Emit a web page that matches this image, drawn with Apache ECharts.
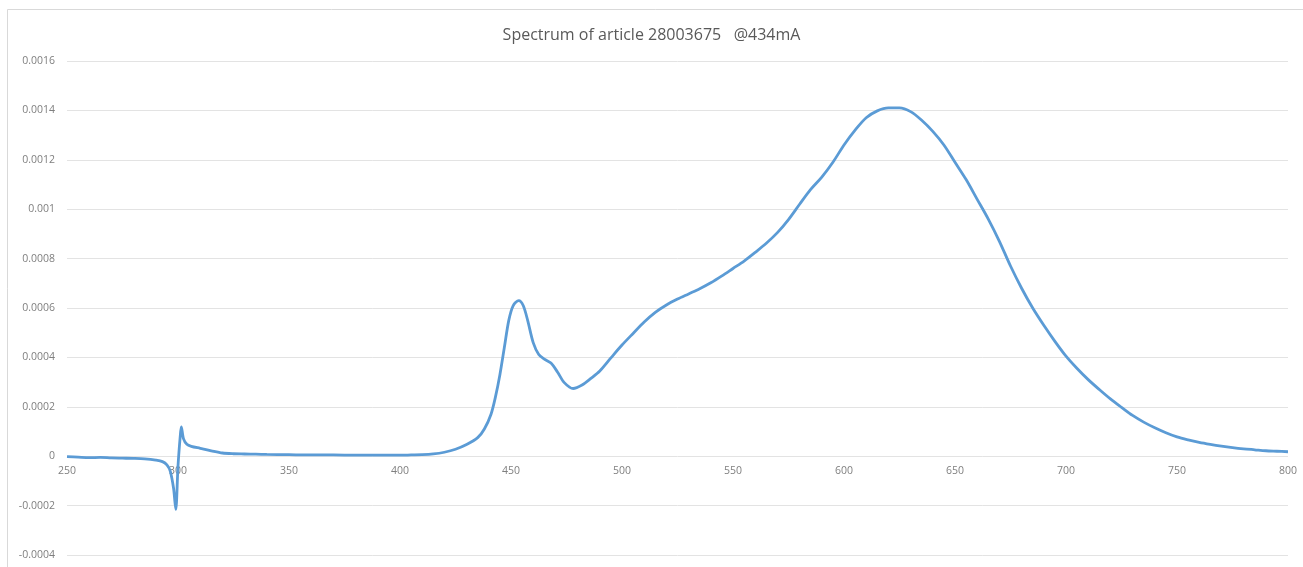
<!DOCTYPE html>
<html>
<head>
<meta charset="utf-8">
<script src="https://cdn.jsdelivr.net/npm/echarts@6/dist/echarts.min.js"></script>
<style>
html,body{margin:0;padding:0;background:#fff;}
#chart{width:1303px;height:567px;}
</style>
</head>
<body>
<div id="chart"></div>
<script>
// Wavelength (nm)
const wavelengths = [250,255,260,265,270,275,280,285,290,293,295,296.5,298,299,300,301,301.5,302.5,304,306,310,315,320,325,330,335,340,350,360,370,380,390,400,405,410,415,420,425,430,435,438,441,443,445,447,449,451,453.5,455.5,457.5,460,462.5,465,468,471,474,478,482,486,490,495,500,505,510,515,520,525,530,535,540,545,550,555,560,565,570,575,580,585,590,595,600,605,610,615,620,625,630,635,640,645,650,655,660,665,670,675,680,685,690,695,700,705,710,715,720,725,730,735,740,745,750,755,760,765,770,775,780,785,790,795,800];
// Spectral intensity
const intensity = [-0.000002,-0.000004,-0.000006,-0.000005,-0.000007,-0.000008,-0.000009,-0.000011,-0.000016,-0.000022,-0.000035,-0.00006,-0.00013,-0.000215,-0.00004,0.00008,0.000119,0.00007,0.000048,0.00004,0.000032,0.000022,0.000013,0.00001,0.000009,0.000008,0.000007,0.000006,0.000005,0.000005,0.000004,0.000004,0.000004,0.000005,0.000006,0.000009,0.000016,0.000028,0.000047,0.000075,0.00011,0.00017,0.00024,0.00033,0.00044,0.00055,0.00061,0.00063,0.00061,0.00055,0.00046,0.000412,0.000393,0.000377,0.00034,0.000298,0.000274,0.000288,0.000315,0.000345,0.000398,0.00045,0.000497,0.000543,0.000582,0.000612,0.000636,0.000657,0.000678,0.000702,0.00073,0.00076,0.00079,0.000825,0.000862,0.000905,0.000958,0.00102,0.00108,0.00113,0.00119,0.00126,0.00132,0.00137,0.001398,0.00141,0.00141,0.001395,0.00136,0.001315,0.00126,0.00119,0.00112,0.00104,0.00096,0.00087,0.00077,0.00068,0.0006,0.00053,0.000465,0.000405,0.000355,0.00031,0.00027,0.000232,0.000198,0.000165,0.000138,0.000115,0.000095,0.000078,0.000066,0.000056,0.000048,0.000041,0.000035,0.00003,0.000026,0.000022,0.00002,0.000018];
const titleText = 'Spectrum of article 28003675   @434mA';
const xTicks = {min:250, max:800, interval:50};
const yTicks = {min:-0.0004, max:0.0016, interval:0.0002};

const points = wavelengths.map((w,i)=>[w,intensity[i]]);
const chart = echarts.init(document.getElementById('chart'));
const font = '"Open Sans", "Liberation Sans", sans-serif';

// plot area geometry
const gLeft = 67, gRight = 15, gTop = 61, gBottom = 12, H = 567;
const plotH = H - gTop - gBottom;
// pixel height of the part above zero, derived from the y axis range
const zeroFrac = (yTicks.max - 0) / (yTicks.max - yTicks.min);
const labelGridBottom = H - (gTop + plotH * zeroFrac);

chart.setOption({
  animation:false,
  backgroundColor:'#fff',
  textStyle:{fontFamily:font},
  title:{text:titleText,left:'center',top:22,textStyle:{fontSize:16,fontWeight:'normal',color:'#595959',fontFamily:font}},
  graphic:[{type:'rect',shape:{x:7.5,y:9.5,width:1320,height:600},style:{fill:'none',stroke:'#d9d9d9',lineWidth:1},silent:true}],
  grid:[
    {left:gLeft,right:gRight,top:gTop,bottom:gBottom,outerBoundsMode:'none',containLabel:false},
    {left:gLeft,right:gRight,top:gTop,bottom:labelGridBottom,outerBoundsMode:'none',containLabel:false}
  ],
  xAxis:[
    {type:'value',gridIndex:0,min:xTicks.min,max:xTicks.max,interval:xTicks.interval,
      axisLine:{show:false},axisTick:{show:false},splitLine:{show:false},axisLabel:{show:false}},
    {type:'value',gridIndex:1,min:xTicks.min,max:xTicks.max,interval:xTicks.interval,
      axisLine:{show:false},axisTick:{show:false},splitLine:{show:false},
      axisLabel:{color:'#7f7f7f',fontSize:10.5,margin:9,fontFamily:font}}
  ],
  yAxis:[
    {type:'value',gridIndex:0,min:yTicks.min,max:yTicks.max,interval:yTicks.interval,
      axisLine:{show:false,onZero:false},axisTick:{show:false},
      splitLine:{lineStyle:{color:'#e3e3e3',width:1}},
      axisLabel:{color:'#7f7f7f',fontSize:10.5,margin:12,fontFamily:font,
        formatter:v=>String(parseFloat(v.toFixed(4)))}},
    {type:'value',gridIndex:1,min:0,max:yTicks.max,show:false,splitLine:{show:false}}
  ],
  series:[{type:'line',xAxisIndex:0,yAxisIndex:0,data:points,showSymbol:false,smooth:0.3,
    lineStyle:{color:'#5B9BD5',width:2.8},itemStyle:{color:'#5B9BD5'}}]
});
</script>
</body>
</html>
